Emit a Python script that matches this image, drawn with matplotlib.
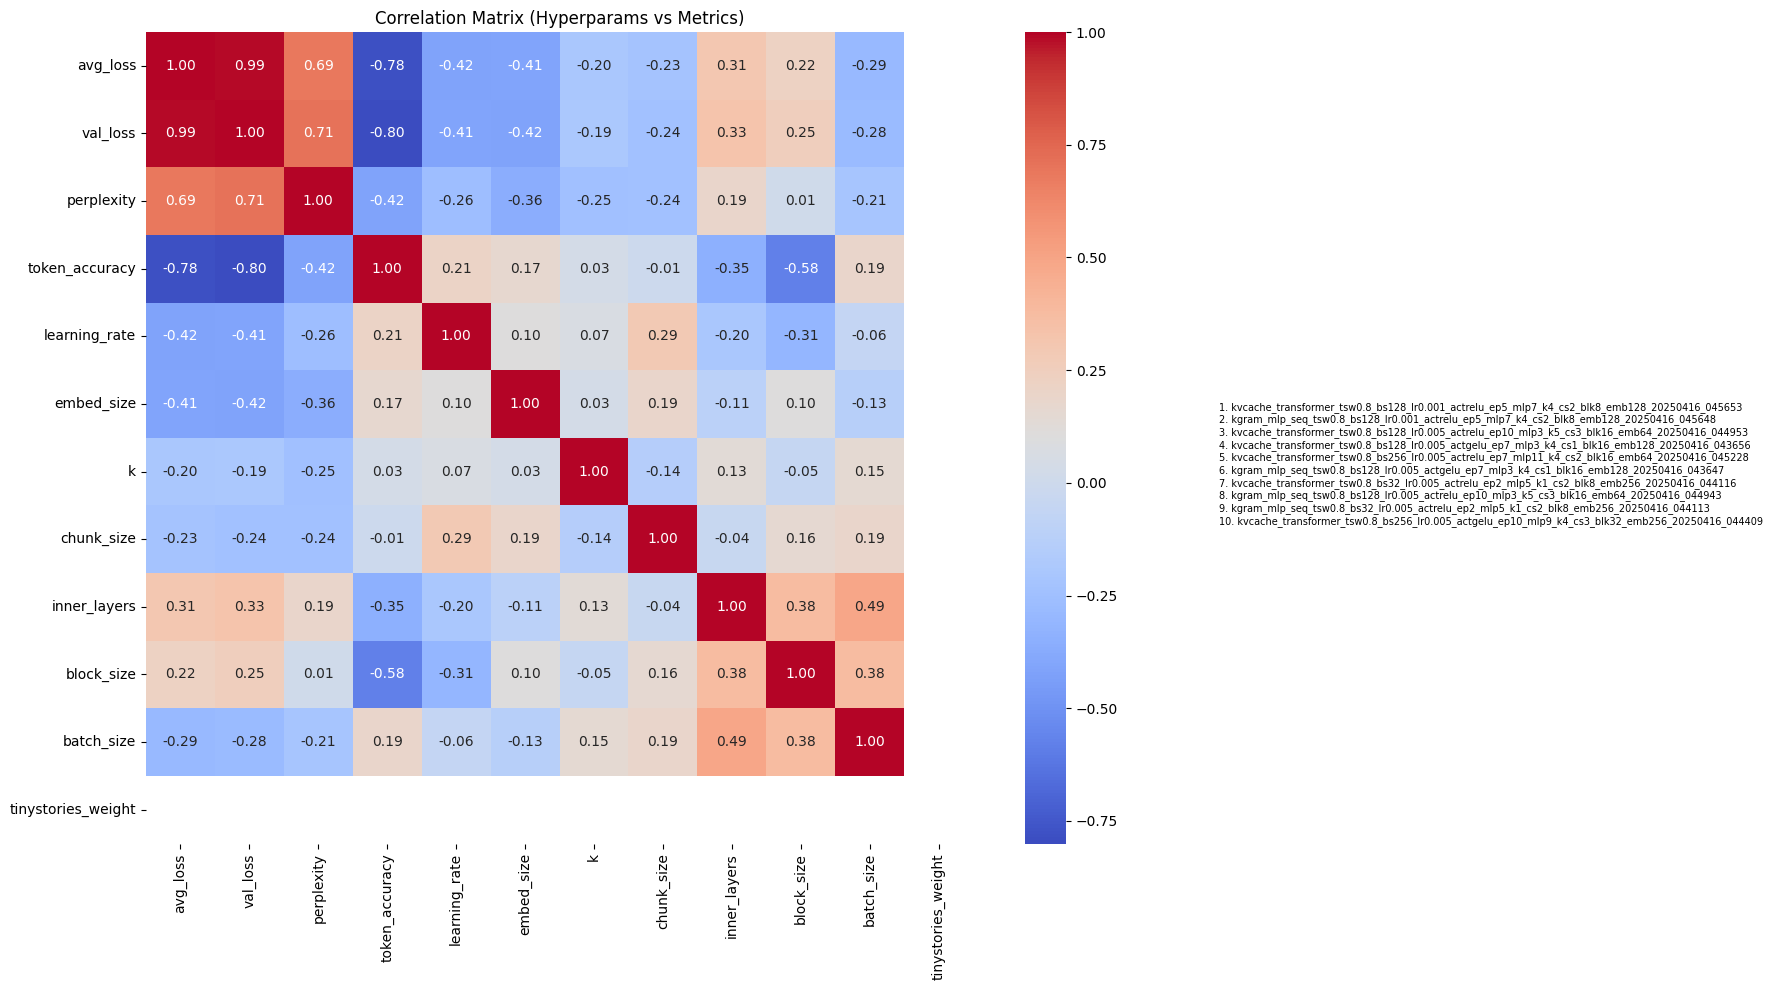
import numpy as np
import pandas as pd
import matplotlib
matplotlib.use("Agg")
import matplotlib.pyplot as plt
from matplotlib.ticker import MultipleLocator
import seaborn as sns

labels = ["avg_loss", "val_loss", "perplexity", "token_accuracy", "learning_rate",
          "embed_size", "k", "chunk_size", "inner_layers", "block_size",
          "batch_size", "tinystories_weight"]

nan = np.nan
row_avg_loss = [1.00, 0.99, 0.69, -0.78, -0.42, -0.41, -0.20, -0.23, 0.31, 0.22, -0.29, nan]
row_val_loss = [0.99, 1.00, 0.71, -0.80, -0.41, -0.42, -0.19, -0.24, 0.33, 0.25, -0.28, nan]
row_perplexity = [0.69, 0.71, 1.00, -0.42, -0.26, -0.36, -0.25, -0.24, 0.19, 0.01, -0.21, nan]
row_token_accuracy = [-0.78, -0.80, -0.42, 1.00, 0.21, 0.17, 0.03, -0.01, -0.35, -0.58, 0.19, nan]
row_learning_rate = [-0.42, -0.41, -0.26, 0.21, 1.00, 0.10, 0.07, 0.29, -0.20, -0.31, -0.06, nan]
row_embed_size = [-0.41, -0.42, -0.36, 0.17, 0.10, 1.00, 0.03, 0.19, -0.11, 0.10, -0.13, nan]
row_k = [-0.20, -0.19, -0.25, 0.03, 0.07, 0.03, 1.00, -0.14, 0.13, -0.05, 0.15, nan]
row_chunk_size = [-0.23, -0.24, -0.24, -0.01, 0.29, 0.19, -0.14, 1.00, -0.04, 0.16, 0.19, nan]
row_inner_layers = [0.31, 0.33, 0.19, -0.35, -0.20, -0.11, 0.13, -0.04, 1.00, 0.38, 0.49, nan]
row_block_size = [0.22, 0.25, 0.01, -0.58, -0.31, 0.10, -0.05, 0.16, 0.38, 1.00, 0.38, nan]
row_batch_size = [-0.29, -0.28, -0.21, 0.19, -0.06, -0.13, 0.15, 0.19, 0.49, 0.38, 1.00, nan]
row_tinystories_weight = [nan] * 12

runs = [
    "kvcache_transformer_tsw0.8_bs128_lr0.001_actrelu_ep5_mlp7_k4_cs2_blk8_emb128_20250416_045653",
    "kgram_mlp_seq_tsw0.8_bs128_lr0.001_actrelu_ep5_mlp7_k4_cs2_blk8_emb128_20250416_045648",
    "kvcache_transformer_tsw0.8_bs128_lr0.005_actrelu_ep10_mlp3_k5_cs3_blk16_emb64_20250416_044953",
    "kvcache_transformer_tsw0.8_bs128_lr0.005_actgelu_ep7_mlp3_k4_cs1_blk16_emb128_20250416_043656",
    "kvcache_transformer_tsw0.8_bs256_lr0.005_actrelu_ep7_mlp11_k4_cs2_blk16_emb64_20250416_045228",
    "kgram_mlp_seq_tsw0.8_bs128_lr0.005_actgelu_ep7_mlp3_k4_cs1_blk16_emb128_20250416_043647",
    "kvcache_transformer_tsw0.8_bs32_lr0.005_actrelu_ep2_mlp5_k1_cs2_blk8_emb256_20250416_044116",
    "kgram_mlp_seq_tsw0.8_bs128_lr0.005_actrelu_ep10_mlp3_k5_cs3_blk16_emb64_20250416_044943",
    "kgram_mlp_seq_tsw0.8_bs32_lr0.005_actrelu_ep2_mlp5_k1_cs2_blk8_emb256_20250416_044113",
    "kvcache_transformer_tsw0.8_bs256_lr0.005_actgelu_ep10_mlp9_k4_cs3_blk32_emb256_20250416_044409",
]

corr = pd.DataFrame(
    [row_avg_loss, row_val_loss, row_perplexity, row_token_accuracy, row_learning_rate,
     row_embed_size, row_k, row_chunk_size, row_inner_layers, row_block_size,
     row_batch_size, row_tinystories_weight],
    index=labels, columns=labels)

W, H = 1773, 990
fig = plt.figure(figsize=(W / 100, H / 100), dpi=100)
ax = fig.add_axes([146 / W, (H - 843.5) / H, 827 / W, 811.5 / H])
cax = fig.add_axes([1025 / W, (H - 843.5) / H, 41 / W, 811.5 / H])

sns.heatmap(corr, annot=True, fmt=".2f", cmap="coolwarm", ax=ax, cbar_ax=cax)
ax.set_title("Correlation Matrix (Hyperparams vs Metrics)", fontsize=12)
cax.yaxis.set_major_locator(MultipleLocator(0.25))

line_h = 12.65
y0 = 407.3
for i, name in enumerate(runs):
    fig.text(1219 / W, 1 - (y0 + i * line_h) / H, f"{i + 1}. {name}",
             fontsize=7, va="center", ha="left")

fig.savefig("out.png", dpi=100)
